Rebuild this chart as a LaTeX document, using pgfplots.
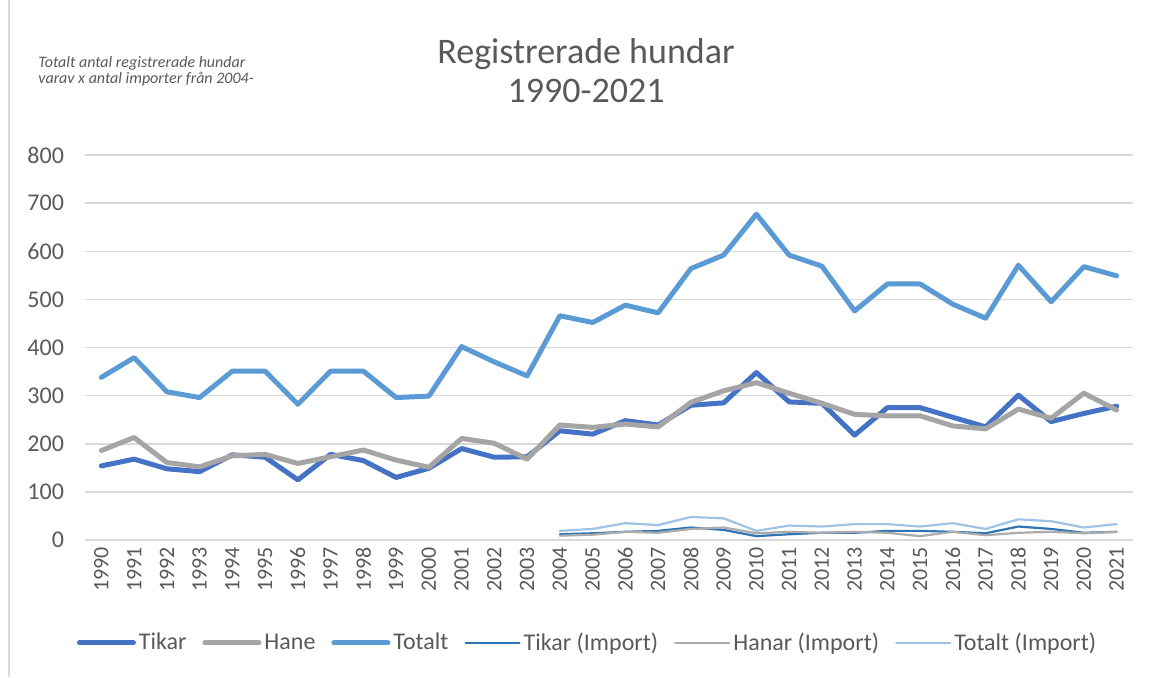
\documentclass[border=0pt]{standalone}
\usepackage{fontspec}
\setmainfont{Carlito}
\usepackage{pgfplots}
\usepackage{pgfplotstable}
\pgfplotsset{compat=1.18}
\definecolor{ctikar}{HTML}{4472C4}
\definecolor{chane}{HTML}{A5A5A5}
\definecolor{ctot}{HTML}{5B9BD5}
\definecolor{ctikarimp}{HTML}{2E75B6}
\definecolor{chanarimp}{HTML}{ABABAB}
\definecolor{ctotimp}{HTML}{9DC3E6}
\definecolor{gridgray}{HTML}{D9D9D9}
\definecolor{textgray}{HTML}{595959}

\pgfplotstableread{
year tikar hane totalt
1990 154 186 338
1991 168 213 379
1992 148 161 308
1993 142 152 296
1994 177 175 351
1995 172 178 351
1996 125 159 282
1997 178 173 351
1998 165 187 351
1999 130 166 296
2000 149 151 299
2001 190 211 402
2002 172 201 370
2003 173 168 341
2004 227 239 466
2005 220 234 452
2006 248 241 488
2007 239 235 472
2008 280 286 564
2009 285 310 592
2010 348 327 677
2011 287 305 592
2012 284 284 569
2013 218 261 476
2014 275 258 532
2015 275 258 532
2016 255 237 490
2017 235 231 461
2018 301 272 571
2019 246 253 495
2020 263 305 568
2021 278 270 549
}\maindata

\pgfplotstableread{
year tikar hanar totalt
2004 12 9 19
2005 14 11 23
2006 17 17 35
2007 19 15 31
2008 26 23 48
2009 21 26 45
2010 8 14 19
2011 12 17 30
2012 15 15 28
2013 15 17 33
2014 19 15 33
2015 19 8 28
2016 17 17 35
2017 14 10 23
2018 28 15 43
2019 23 17 39
2020 15 14 26
2021 17 17 33
}\impdata

\begin{document}
\begin{tikzpicture}
\path[use as bounding box] (0pt,0pt) rectangle (575.5pt,338.5pt);
\draw[gridgray, line width=0.75pt] (4.5pt,0pt) -- (4.5pt,338.5pt);
\node[anchor=base, text=textgray, font=\fontsize{18}{21}\selectfont] at (293pt,307pt) {Registrerade hundar};
\node[anchor=base, text=textgray, font=\fontsize{18}{21}\selectfont] at (293pt,287.5pt) {1990-2021};
\node[anchor=base west, text=textgray, font=\fontsize{8}{9}\selectfont\itshape, inner sep=0pt] at (19pt,305pt) {Totalt antal registrerade hundar};
\node[anchor=base west, text=textgray, font=\fontsize{8}{9}\selectfont\itshape, inner sep=0pt] at (19pt,297pt) {varav x antal importer från 2004-};
\begin{axis}[
  at={(42.5pt,68.5pt)}, anchor=south west,
  scale only axis, width=524pt, height=192.5pt,
  xmin=1989.5, xmax=2021.5, ymin=0, ymax=800,
  xtick={1990,...,2021}, ytick={0,100,...,800},
  axis line style={draw=none}, tick style={draw=none},
  ymajorgrids, grid style={color=gridgray, line width=0.75pt},
  /pgf/number format/assume math mode=true,
  /pgf/number format/1000 sep={},
  ticklabel style={text=textgray},
  x tick label style={rotate=90, anchor=east, font=\fontsize{11}{13}\selectfont},
  y tick label style={xshift=-7pt, font=\fontsize{12}{14}\selectfont},
  legend columns=6,
  legend style={at={(0.48,-0.2675)}, anchor=center, draw=none, fill=none,
    font=\fontsize{12}{14}\selectfont, text=textgray,
    nodes={inner sep=1.5pt},
    /tikz/every odd column/.append style={column sep=0pt},
    /tikz/every even column/.append style={column sep=6.5pt}},
  legend image code/.code={\draw[#1, line cap=round] (0pt,0pt) -- (27pt,0pt);},
  every axis plot/.append style={line join=round, line cap=round},
]
\addplot[ctikar, line width=2.5pt] table[x=year, y=tikar] {\maindata};
\addlegendentry{Tikar}
\addplot[chane, line width=2.5pt] table[x=year, y=hane] {\maindata};
\addlegendentry{Hane}
\addplot[ctot, line width=2.5pt] table[x=year, y=totalt] {\maindata};
\addlegendentry{Totalt}
\addplot[ctikarimp, line width=1.1pt] table[x=year, y=tikar] {\impdata};
\addlegendentry{Tikar (Import)}
\addplot[chanarimp, line width=1.1pt] table[x=year, y=hanar] {\impdata};
\addlegendentry{Hanar (Import)}
\addplot[ctotimp, line width=1.1pt] table[x=year, y=totalt] {\impdata};
\addlegendentry{Totalt (Import)}
\end{axis}
\end{tikzpicture}
\end{document}
